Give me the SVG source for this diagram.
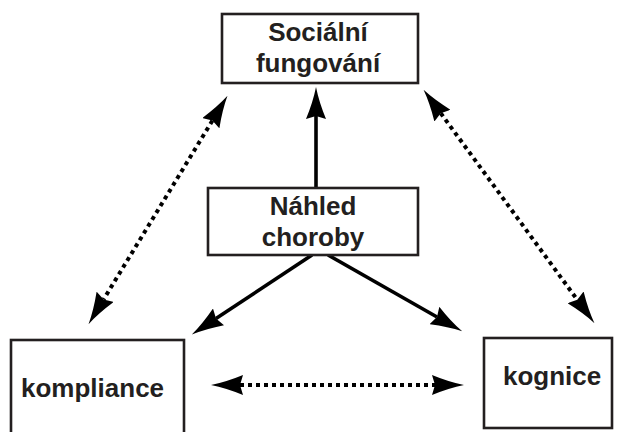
<svg xmlns="http://www.w3.org/2000/svg" width="625" height="432" viewBox="0 0 625 432">
  <style>
    .box { fill: #ffffff; stroke: #231f20; stroke-width: 2.6; }
    .lbl { font-family: "Liberation Sans", Arial, Helvetica, sans-serif; font-weight: bold; font-size: 26px; fill: #231f20; }
    .solid { stroke: #000; stroke-width: 3.6; fill: none; marker-end: url(#head); }
    .dotted { stroke: #000; stroke-width: 4; stroke-dasharray: 4 4; fill: none; marker-start: url(#head); marker-end: url(#head); }
  </style>
  <defs>
    <marker id="head" viewBox="0 0 32 20" refX="3" refY="10" markerWidth="32" markerHeight="20" markerUnits="userSpaceOnUse" orient="auto-start-reverse">
      <path d="M32,10 Q17,7 0,0 L3,10 L0,20 Q17,13 32,10 Z" fill="#000"/>
    </marker>
  </defs>
  <rect width="625" height="432" fill="#ffffff"/>

  <g id="connectors">
    <line class="solid" x1="316" y1="188" x2="316" y2="116"/>
    <line class="solid" x1="312" y1="255" x2="216" y2="318.5"/>
    <line class="solid" x1="328" y1="255" x2="437" y2="317"/>
    <line class="dotted" x1="212.4" y1="120.6" x2="103.6" y2="299.4"/>
    <line class="dotted" x1="440.7" y1="113.2" x2="577.3" y2="299.8"/>
    <line class="dotted" x1="240" y1="385" x2="435" y2="385"/>
  </g>

  <g id="socialni-fungovani">
    <rect class="box" x="222" y="14" width="196" height="69"/>
    <text class="lbl" x="318" y="41" text-anchor="middle">Sociální</text>
    <text class="lbl" x="318" y="72" text-anchor="middle">fungování</text>
  </g>

  <g id="nahled-choroby">
    <rect class="box" x="208" y="188" width="210" height="67"/>
    <text class="lbl" x="313" y="215" text-anchor="middle">Náhled</text>
    <text class="lbl" x="313" y="246" text-anchor="middle">choroby</text>
  </g>

  <g id="kompliance">
    <rect class="box" x="11" y="340" width="173" height="100"/>
    <text class="lbl" x="21" y="397">kompliance</text>
  </g>

  <g id="kognice">
    <rect class="box" x="484" y="338" width="128" height="90"/>
    <text class="lbl" x="503" y="385">kognice</text>
  </g>
</svg>
